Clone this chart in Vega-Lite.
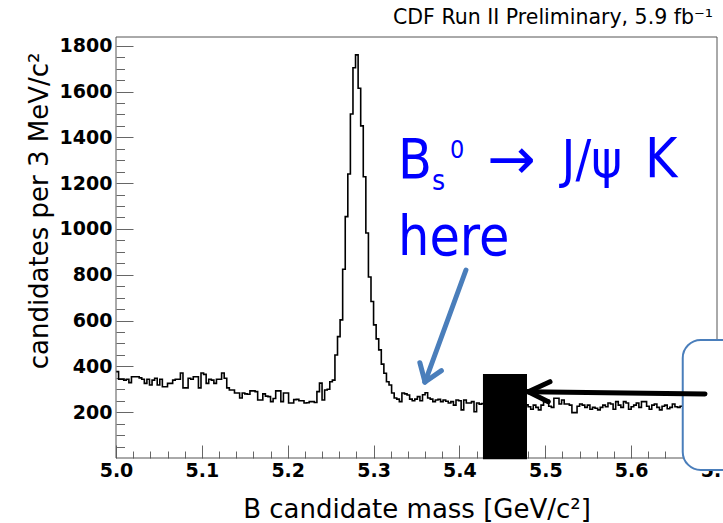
{
"$schema": "https://vega.github.io/schema/vega-lite/v6.json",
"width": 601, "height": 421,
"autosize": {"type": "none"},
"padding": {"left": 116, "top": 37, "right": 6, "bottom": 65},
"background": "white",
"title": {"text": "CDF Run II Preliminary, 5.9 fb⁻¹", "anchor": "end", "frame": "group", "font": "DejaVu Sans", "fontSize": 20.5, "fontWeight": "normal", "color": "black", "offset": 8, "dx": -4},
"config": {"view": {"stroke": null}},
"resolve": {"axis": {"x": "independent", "y": "independent"}},
"datasets": {
"hist": [
{"m":5.000,"n":377},{"m":5.003,"n":344},{"m":5.006,"n":344},{"m":5.009,"n":340},{"m":5.012,"n":344},{"m":5.015,"n":329},{"m":5.018,"n":355},{"m":5.021,"n":355},{"m":5.024,"n":355},{"m":5.027,"n":350},
{"m":5.030,"n":344},{"m":5.033,"n":326},{"m":5.036,"n":344},{"m":5.039,"n":319},{"m":5.042,"n":340},{"m":5.045,"n":348},{"m":5.048,"n":319},{"m":5.051,"n":344},{"m":5.054,"n":311},{"m":5.057,"n":311},
{"m":5.060,"n":326},{"m":5.063,"n":326},{"m":5.066,"n":340},{"m":5.069,"n":344},{"m":5.072,"n":344},{"m":5.075,"n":371},{"m":5.078,"n":306},{"m":5.081,"n":306},{"m":5.084,"n":348},{"m":5.087,"n":344},
{"m":5.090,"n":355},{"m":5.093,"n":355},{"m":5.096,"n":306},{"m":5.099,"n":371},{"m":5.102,"n":365},{"m":5.105,"n":326},{"m":5.108,"n":344},{"m":5.111,"n":340},{"m":5.114,"n":326},{"m":5.117,"n":344},
{"m":5.120,"n":344},{"m":5.123,"n":371},{"m":5.126,"n":348},{"m":5.129,"n":306},{"m":5.132,"n":297},{"m":5.135,"n":297},{"m":5.138,"n":284},{"m":5.141,"n":284},{"m":5.144,"n":262},{"m":5.147,"n":284},
{"m":5.150,"n":280},{"m":5.153,"n":278},{"m":5.156,"n":293},{"m":5.159,"n":293},{"m":5.162,"n":290},{"m":5.165,"n":253},{"m":5.168,"n":253},{"m":5.171,"n":280},{"m":5.174,"n":270},{"m":5.177,"n":268},
{"m":5.180,"n":246},{"m":5.183,"n":260},{"m":5.186,"n":293},{"m":5.189,"n":293},{"m":5.192,"n":246},{"m":5.195,"n":284},{"m":5.198,"n":284},{"m":5.201,"n":240},{"m":5.204,"n":240},{"m":5.207,"n":255},
{"m":5.210,"n":256},{"m":5.213,"n":250},{"m":5.216,"n":250},{"m":5.219,"n":240},{"m":5.222,"n":241},{"m":5.225,"n":246},{"m":5.228,"n":246},{"m":5.231,"n":242},{"m":5.234,"n":290},{"m":5.237,"n":327},
{"m":5.240,"n":253},{"m":5.243,"n":297},{"m":5.246,"n":300},{"m":5.249,"n":333},{"m":5.252,"n":340},{"m":5.255,"n":450},{"m":5.258,"n":530},{"m":5.261,"n":603},{"m":5.264,"n":824},{"m":5.267,"n":1054},
{"m":5.270,"n":1240},{"m":5.273,"n":1502},{"m":5.276,"n":1704},{"m":5.279,"n":1760},{"m":5.282,"n":1614},{"m":5.285,"n":1450},{"m":5.288,"n":1228},{"m":5.291,"n":982},{"m":5.294,"n":790},{"m":5.297,"n":683},
{"m":5.300,"n":581},{"m":5.303,"n":520},{"m":5.306,"n":472},{"m":5.309,"n":410},{"m":5.312,"n":370},{"m":5.315,"n":333},{"m":5.318,"n":319},{"m":5.321,"n":284},{"m":5.324,"n":262},{"m":5.327,"n":257},
{"m":5.330,"n":246},{"m":5.333,"n":284},{"m":5.336,"n":280},{"m":5.339,"n":275},{"m":5.342,"n":257},{"m":5.345,"n":250},{"m":5.348,"n":257},{"m":5.351,"n":268},{"m":5.354,"n":250},{"m":5.357,"n":276},
{"m":5.360,"n":285},{"m":5.363,"n":262},{"m":5.366,"n":257},{"m":5.369,"n":246},{"m":5.372,"n":253},{"m":5.375,"n":256},{"m":5.378,"n":246},{"m":5.381,"n":253},{"m":5.384,"n":248},{"m":5.387,"n":240},
{"m":5.390,"n":246},{"m":5.393,"n":231},{"m":5.396,"n":253},{"m":5.399,"n":250},{"m":5.402,"n":210},{"m":5.405,"n":253},{"m":5.408,"n":240},{"m":5.411,"n":240},{"m":5.414,"n":246},{"m":5.417,"n":202},
{"m":5.420,"n":240},{"m":5.423,"n":235},{"m":5.426,"n":238},{"m":5.429,"n":225},{"m":5.432,"n":242},{"m":5.435,"n":230},{"m":5.438,"n":236},{"m":5.441,"n":222},{"m":5.444,"n":240},{"m":5.447,"n":231},
{"m":5.450,"n":228},{"m":5.453,"n":244},{"m":5.456,"n":226},{"m":5.459,"n":235},{"m":5.462,"n":229},{"m":5.465,"n":241},{"m":5.468,"n":233},{"m":5.471,"n":224},{"m":5.474,"n":238},{"m":5.477,"n":232},
{"m":5.480,"n":224},{"m":5.483,"n":213},{"m":5.486,"n":231},{"m":5.489,"n":221},{"m":5.492,"n":210},{"m":5.495,"n":231},{"m":5.498,"n":246},{"m":5.501,"n":253},{"m":5.504,"n":226},{"m":5.507,"n":221},
{"m":5.510,"n":261},{"m":5.513,"n":261},{"m":5.516,"n":236},{"m":5.519,"n":253},{"m":5.522,"n":236},{"m":5.525,"n":236},{"m":5.528,"n":231},{"m":5.531,"n":198},{"m":5.534,"n":198},{"m":5.537,"n":226},
{"m":5.540,"n":236},{"m":5.543,"n":231},{"m":5.546,"n":221},{"m":5.549,"n":231},{"m":5.552,"n":213},{"m":5.555,"n":221},{"m":5.558,"n":217},{"m":5.561,"n":210},{"m":5.564,"n":221},{"m":5.567,"n":231},
{"m":5.570,"n":224},{"m":5.573,"n":240},{"m":5.576,"n":236},{"m":5.579,"n":213},{"m":5.582,"n":246},{"m":5.585,"n":231},{"m":5.588,"n":221},{"m":5.591,"n":246},{"m":5.594,"n":240},{"m":5.597,"n":213},
{"m":5.600,"n":224},{"m":5.603,"n":231},{"m":5.606,"n":240},{"m":5.609,"n":221},{"m":5.612,"n":246},{"m":5.615,"n":246},{"m":5.618,"n":226},{"m":5.621,"n":213},{"m":5.624,"n":231},{"m":5.627,"n":236},
{"m":5.630,"n":221},{"m":5.633,"n":210},{"m":5.636,"n":226},{"m":5.639,"n":231},{"m":5.642,"n":215},{"m":5.645,"n":221},{"m":5.648,"n":236},{"m":5.651,"n":224},{"m":5.654,"n":221},{"m":5.657,"n":226},
{"m":5.660,"n":228},{"m":5.663,"n":219},{"m":5.666,"n":235},{"m":5.669,"n":224},{"m":5.672,"n":230},{"m":5.675,"n":218},{"m":5.678,"n":233},{"m":5.681,"n":227},{"m":5.684,"n":221},{"m":5.687,"n":236},
{"m":5.690,"n":225},{"m":5.693,"n":229},{"m":5.696,"n":222},{"m":5.699,"n":222}
],
"blackArrow": [
{"x":5.686,"y":279.4,"x2":5.4802,"y2":289.5},
{"x":5.4802,"y":289.5,"x2":5.5055,"y2":333.1},
{"x":5.4802,"y":289.5,"x2":5.5035,"y2":245.8}
],
"blueArrow": [
{"x":5.4076,"y":820.8,"x2":5.3599,"y2":331.8},
{"x":5.3599,"y":331.8,"x2":5.3790,"y2":381.6},
{"x":5.3599,"y":331.8,"x2":5.3539,"y2":416.1}
]
},
"layer": [
{
"data": {"name": "hist"},
"mark": {"type": "line", "interpolate": "step-after", "color": "black", "strokeWidth": 1.6, "clip": true},
"encoding": {
"x": {"field": "m", "type": "quantitative", "scale": {"domain": [5.0, 5.7], "nice": false, "zero": false},
"axis": {"orient": "bottom", "values": [5.0, 5.1, 5.2, 5.3, 5.4, 5.5, 5.6, 5.7], "format": ".1f", "tickSize": -13, "tickColor": "#666", "tickWidth": 1, "labelPadding": 16, "labelFont": "DejaVu Sans", "labelFontWeight": "bold", "labelFontSize": 19, "labelColor": "black", "labelFlush": false, "labelOverlap": false, "labelBound": false, "domain": false, "grid": false,
"title": "B candidate mass [GeV/c²]", "titleFont": "DejaVu Sans", "titleFontSize": 26, "titleFontWeight": "normal", "titleColor": "black", "titleY": 59, "titleBaseline": "alphabetic"}},
"y": {"field": "n", "type": "quantitative", "scale": {"domain": [0, 1838], "nice": false, "zero": false},
"axis": {"orient": "left", "values": [200, 400, 600, 800, 1000, 1200, 1400, 1600, 1800], "format": "d", "tickSize": -17, "tickColor": "#666", "tickWidth": 1, "labelPadding": 21, "labelFont": "DejaVu Sans", "labelFontWeight": "bold", "labelFontSize": 19, "labelColor": "black", "labelFlush": false, "labelOverlap": false, "labelBound": false, "domain": false, "grid": false,
"title": "candidates per 3 MeV/c²", "titleFont": "DejaVu Sans", "titleFontSize": 26, "titleFontWeight": "normal", "titleColor": "black", "titleAngle": -90, "titleAlign": "right", "titleBaseline": "alphabetic", "titleX": -69, "titleY": 15}}
}
},
{
"data": {"values": [{}]},
"mark": {"type": "rect", "fillOpacity": 0, "stroke": "#555", "strokeWidth": 1, "clip": false},
"encoding": {
"x": {"datum": 5.0, "type": "quantitative", "scale": {"domain": [5.0, 5.7], "nice": false, "zero": false},
"axis": {"orient": "bottom", "values": [5.02, 5.04, 5.06, 5.08, 5.12, 5.14, 5.16, 5.18, 5.22, 5.24, 5.26, 5.28, 5.32, 5.34, 5.36, 5.38, 5.42, 5.44, 5.46, 5.48, 5.52, 5.54, 5.56, 5.58, 5.62, 5.64, 5.66, 5.68], "tickSize": -7, "tickColor": "#666", "tickWidth": 1, "labels": false, "domain": false, "grid": false, "title": null}},
"x2": {"datum": 5.7},
"y": {"datum": 0, "type": "quantitative", "scale": {"domain": [0, 1838], "nice": false, "zero": false},
"axis": {"orient": "left", "values": [50, 100, 150, 250, 300, 350, 450, 500, 550, 650, 700, 750, 850, 900, 950, 1050, 1100, 1150, 1250, 1300, 1350, 1450, 1500, 1550, 1650, 1700, 1750], "tickSize": -8.5, "tickColor": "#666", "tickWidth": 1, "labels": false, "domain": false, "grid": false, "title": null}},
"y2": {"datum": 1838}
}
},
{
"data": {"values": [{}]},
"mark": {"type": "rect", "color": "black", "clip": false},
"encoding": {
"x": {"datum": 5.4274, "type": "quantitative", "scale": {"domain": [5.0, 5.7], "nice": false, "zero": false}, "axis": null},
"x2": {"datum": 5.4787},
"y": {"datum": 367, "type": "quantitative", "scale": {"domain": [0, 1838], "nice": false, "zero": false}, "axis": null},
"y2": {"datum": -5}
}
},
{
"data": {"values": [{}]},
"mark": {"type": "rect", "fill": "white", "stroke": "#4a7ebb", "strokeWidth": 2, "cornerRadius": 18, "clip": false},
"encoding": {
"x": {"datum": 5.6601, "type": "quantitative", "scale": {"domain": [5.0, 5.7], "nice": false, "zero": false}, "axis": null},
"x2": {"datum": 5.80},
"y": {"datum": 515, "type": "quantitative", "scale": {"domain": [0, 1838], "nice": false, "zero": false}, "axis": null},
"y2": {"datum": -52}
}
},
{
"data": {"name": "blackArrow"},
"mark": {"type": "rule", "color": "black", "strokeWidth": 5, "strokeCap": "round", "clip": false},
"encoding": {
"x": {"field": "x", "type": "quantitative", "scale": {"domain": [5.0, 5.7], "nice": false, "zero": false}, "axis": null},
"x2": {"field": "x2"},
"y": {"field": "y", "type": "quantitative", "scale": {"domain": [0, 1838], "nice": false, "zero": false}, "axis": null},
"y2": {"field": "y2"}
}
},
{
"data": {"name": "blueArrow"},
"mark": {"type": "rule", "color": "#4a7ebb", "strokeWidth": 5, "strokeCap": "round", "clip": false},
"encoding": {
"x": {"field": "x", "type": "quantitative", "scale": {"domain": [5.0, 5.7], "nice": false, "zero": false}, "axis": null},
"x2": {"field": "x2"},
"y": {"field": "y", "type": "quantitative", "scale": {"domain": [0, 1838], "nice": false, "zero": false}, "axis": null},
"y2": {"field": "y2"}
}
},
{
"data": {"values": [{}]},
"mark": {"type": "text", "text": "B", "font": "DejaVu Sans Condensed, DejaVu Sans", "fontSize": 55, "color": "#0000ff", "align": "left", "baseline": "alphabetic"},
"encoding": {
"x": {"datum": 5.3285, "type": "quantitative", "scale": {"domain": [5.0, 5.7], "nice": false, "zero": false}, "axis": null},
"y": {"datum": 1222, "type": "quantitative", "scale": {"domain": [0, 1838], "nice": false, "zero": false}, "axis": null}
}
},
{
"data": {"values": [{}]},
"mark": {"type": "text", "text": "s", "font": "DejaVu Sans Condensed, DejaVu Sans", "fontSize": 28, "color": "#0000ff", "align": "left", "baseline": "alphabetic"},
"encoding": {
"x": {"datum": 5.368, "type": "quantitative", "scale": {"domain": [5.0, 5.7], "nice": false, "zero": false}, "axis": null},
"y": {"datum": 1170, "type": "quantitative", "scale": {"domain": [0, 1838], "nice": false, "zero": false}, "axis": null}
}
},
{
"data": {"values": [{}]},
"mark": {"type": "text", "text": "0", "font": "DejaVu Sans Condensed, DejaVu Sans", "fontSize": 25, "color": "#0000ff", "align": "left", "baseline": "alphabetic"},
"encoding": {
"x": {"datum": 5.389, "type": "quantitative", "scale": {"domain": [5.0, 5.7], "nice": false, "zero": false}, "axis": null},
"y": {"datum": 1310, "type": "quantitative", "scale": {"domain": [0, 1838], "nice": false, "zero": false}, "axis": null}
}
},
{
"data": {"values": [{}]},
"mark": {"type": "text", "text": "→", "font": "DejaVu Sans", "fontSize": 58, "color": "#0000ff", "align": "left", "baseline": "middle"},
"encoding": {
"x": {"datum": 5.4321, "type": "quantitative", "scale": {"domain": [5.0, 5.7], "nice": false, "zero": false}, "axis": null},
"y": {"datum": 1292, "type": "quantitative", "scale": {"domain": [0, 1838], "nice": false, "zero": false}, "axis": null}
}
},
{
"data": {"values": [{}]},
"mark": {"type": "text", "text": "J/ψ", "font": "DejaVu Sans Condensed, DejaVu Sans", "fontSize": 52, "color": "#0000ff", "align": "left", "baseline": "alphabetic"},
"encoding": {
"x": {"datum": 5.519, "type": "quantitative", "scale": {"domain": [5.0, 5.7], "nice": false, "zero": false}, "axis": null},
"y": {"datum": 1227, "type": "quantitative", "scale": {"domain": [0, 1838], "nice": false, "zero": false}, "axis": null}
}
},
{
"data": {"values": [{}]},
"mark": {"type": "text", "text": "K", "font": "DejaVu Sans Condensed, DejaVu Sans", "fontSize": 55, "color": "#0000ff", "align": "left", "baseline": "alphabetic"},
"encoding": {
"x": {"datum": 5.6161, "type": "quantitative", "scale": {"domain": [5.0, 5.7], "nice": false, "zero": false}, "axis": null},
"y": {"datum": 1227, "type": "quantitative", "scale": {"domain": [0, 1838], "nice": false, "zero": false}, "axis": null}
}
},
{
"data": {"values": [{}]},
"mark": {"type": "text", "text": "here", "font": "DejaVu Sans Condensed, DejaVu Sans", "fontSize": 55, "color": "#0000ff", "align": "left", "baseline": "alphabetic"},
"encoding": {
"x": {"datum": 5.3285, "type": "quantitative", "scale": {"domain": [5.0, 5.7], "nice": false, "zero": false}, "axis": null},
"y": {"datum": 886, "type": "quantitative", "scale": {"domain": [0, 1838], "nice": false, "zero": false}, "axis": null}
}
}
]
}
